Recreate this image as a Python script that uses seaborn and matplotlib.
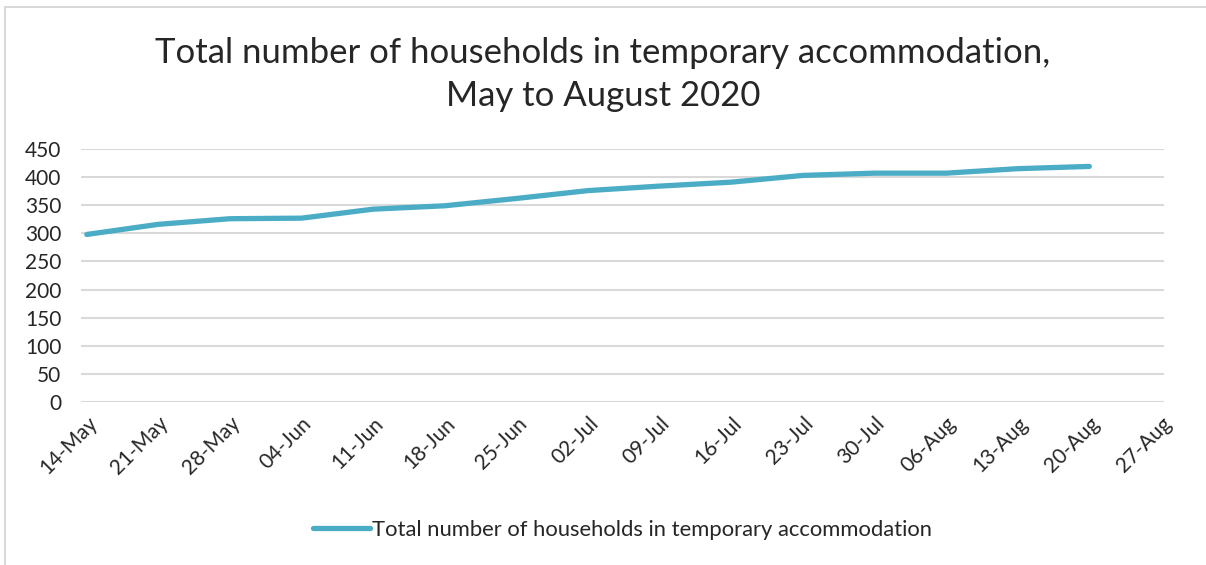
import matplotlib
matplotlib.use("Agg")
import matplotlib.pyplot as plt
import seaborn as sns
import pandas as pd
from matplotlib.patches import Rectangle

# data
week_labels = ["14-May", "21-May", "28-May", "04-Jun", "11-Jun", "18-Jun", "25-Jun", "02-Jul",
               "09-Jul", "16-Jul", "23-Jul", "30-Jul", "06-Aug", "13-Aug", "20-Aug", "27-Aug"]
households = [298, 316, 326, 327, 343, 349, 362, 376, 384, 391, 403, 407, 407, 415, 419]
series_name = "Total number of households in temporary accommodation"
y_ticks = [0, 50, 100, 150, 200, 250, 300, 350, 400, 450]

df = pd.DataFrame({"week": range(len(households)), "value": households})

sns.set_style("white")
plt.rcParams["font.family"] = ["Lato", "DejaVu Sans"]

fig = plt.figure(figsize=(12.06, 5.65), dpi=100)
ax = fig.add_axes([0.067, 0.2885, 0.898, 0.4478])

# chart border like the Excel chart area
fig.patches.append(Rectangle((5 / 1206, -0.01), 1.0, 1 - 7 / 565 + 0.01, transform=fig.transFigure,
                             fill=False, edgecolor="#d9d9d9", linewidth=1.5))

sns.lineplot(data=df, x="week", y="value", ax=ax, color="#4bacc6", linewidth=3.8,
             label=series_name, solid_capstyle="round")

ax.set_ylim(0, 450)
ax.set_xlim(-0.084, 15.04)
ax.set_yticks(y_ticks)
ax.set_xticks(range(len(week_labels)))
ax.set_xticklabels(week_labels, rotation=45, ha="right", rotation_mode="anchor")
ax.tick_params(axis="y", length=0, pad=14, labelsize=15)
ax.tick_params(axis="x", length=0, pad=8, labelsize=15)
ax.grid(axis="y", color="#d9d9d9", linewidth=1.5)
ax.set_axisbelow(True)
for s in ax.spines.values():
    s.set_visible(False)
ax.set_xlabel("")
ax.set_ylabel("")

fig.suptitle("Total number of households in temporary accommodation,\nMay to August 2020",
             y=0.935, fontsize=25, linespacing=1.45)

ax.legend(loc="center", bbox_to_anchor=(0.5, -0.506), frameon=False, fontsize=15.8,
          handlelength=2.6, handletextpad=0.1)

fig.savefig("out.png", dpi=100)
